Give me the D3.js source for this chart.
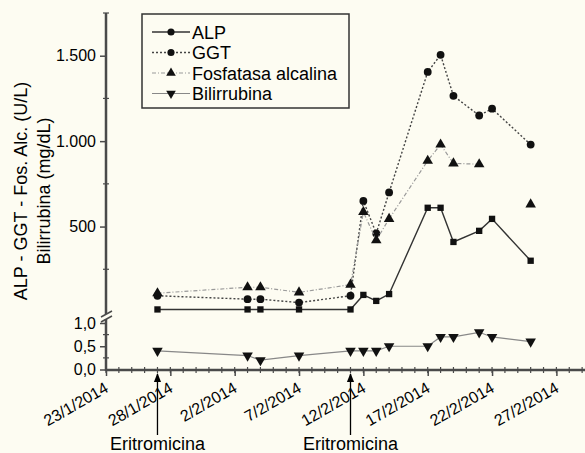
<!DOCTYPE html>
<html>
<head>
<meta charset="utf-8">
<script src="https://cdn.jsdelivr.net/npm/d3@7"></script>
<style>
body { margin: 0; background: #fdfcf2; }
text { font-family: "Liberation Sans", Arial, sans-serif; fill: #000; }
</style>
</head>
<body>
<script>
var w = 585, h = 453;

// days counted from 23/1/2014
var start = new Date(2014, 0, 23);
var days = [4,11,12,15,19,20,21,22,25,26,27,29,30,33];
var alp = [15,15,15,15,15,100,65,105,610,610,410,475,545,300];
var ggt = [95,75,75,55,95,650,460,700,1405,1505,1265,1150,1190,980];
var fa = [110,145,145,115,160,585,420,545,885,980,870,865,null,630];
var bili = [0.4,0.3,0.2,0.3,0.4,0.4,0.4,0.5,0.5,0.7,0.7,0.8,0.7,0.6];
var xTickDays = [0,5,10,15,20,25,30,35];
var upperTicks = [500,1000,1500];
var upperMinor = [250,750,1250,1750];
var lowerTicks = [0,0.5,1];
var lowerMinor = [0.25,0.75];
var arrowDays = [4,19];
var arrowLabel = 'Eritromicina';
var seriesNames = ['ALP','GGT','Fosfatasa alcalina','Bilirrubina'];

var loc = d3.formatLocale({decimal: ',', thousands: '.', grouping: [3], currency: ['', '']});
var day = function(d) { return d3.timeDay.offset(start, d); };

var x = d3.scaleTime().domain([start, day(38)]).range([106, 595]);
var yU = d3.scaleLinear().domain([0, 1750]).range([312, 13]);
var yL = d3.scaleLinear().domain([0, 1]).range([369.5, 323]);

var svg = d3.select('body').append('svg')
    .attr('width', w)
    .attr('height', h);

svg.append('defs').append('marker')
    .attr('id', 'arr')
    .attr('viewBox', '0 0 10 10')
    .attr('refX', 9).attr('refY', 5)
    .attr('markerWidth', 7).attr('markerHeight', 7)
    .attr('orient', 'auto')
    .append('path').attr('d', 'M0,1L10,5L0,9Z').attr('fill', '#000');

var axisCol = '#4a4a4a';

// y axis, upper part
var gU = svg.append('g').attr('transform', 'translate(106,0)')
    .call(d3.axisLeft(yU).tickValues(upperTicks).tickSize(6).tickFormat(loc.format(',')));
// y axis, lower part
var gL = svg.append('g').attr('transform', 'translate(106,0)')
    .call(d3.axisLeft(yL).tickValues(lowerTicks).tickSize(6).tickFormat(loc.format('.1f')));
[gU, gL].forEach(function(g) {
    g.select('.domain').remove();
    g.selectAll('line').attr('stroke', axisCol).attr('stroke-width', 1.5);
    g.selectAll('text').attr('font-size', 16).attr('font-family', '"Liberation Sans", Arial, sans-serif').attr('fill', '#000').attr('dx', -1);
});
svg.append('line').attr('x1', 106).attr('x2', 106).attr('y1', yU(1750)).attr('y2', 314)
    .attr('stroke', axisCol).attr('stroke-width', 2.5);
svg.append('line').attr('x1', 106).attr('x2', 106).attr('y1', 319).attr('y2', 371)
    .attr('stroke', axisCol).attr('stroke-width', 2.5);
// break marks
[[101,317,112,311],[101,322,112,316]].forEach(function(b) {
    svg.append('line').attr('x1', b[0]).attr('y1', b[1]).attr('x2', b[2]).attr('y2', b[3])
        .attr('stroke', axisCol).attr('stroke-width', 1.5);
});
svg.selectAll('.yminU').data(upperMinor).enter().append('line')
    .attr('x1', 103).attr('x2', 109)
    .attr('y1', function(d) { return yU(d); }).attr('y2', function(d) { return yU(d); })
    .attr('stroke', axisCol).attr('stroke-width', 1.2);
svg.selectAll('.yminL').data(lowerMinor).enter().append('line')
    .attr('x1', 103).attr('x2', 109)
    .attr('y1', function(d) { return yL(d); }).attr('y2', function(d) { return yL(d); })
    .attr('stroke', axisCol).attr('stroke-width', 1.2);

// x axis
var gx = svg.append('g').attr('transform', 'translate(0,370)')
    .call(d3.axisBottom(x).tickValues(xTickDays.map(day)).tickSize(6)
        .tickFormat(d3.timeFormat('%-d/%-m/%Y')));
gx.select('.domain').remove();
gx.selectAll('line').attr('stroke', axisCol).attr('stroke-width', 1.5);
gx.selectAll('text')
    .attr('font-size', 16).attr('font-family', '"Liberation Sans", Arial, sans-serif').attr('fill', '#000')
    .attr('text-anchor', 'end')
    .attr('dy', 0).attr('y', 0)
    .attr('transform', 'translate(3,21) rotate(-30)');
svg.append('line').attr('x1', 105).attr('x2', 585).attr('y1', 370).attr('y2', 370)
    .attr('stroke', axisCol).attr('stroke-width', 2.5);
svg.selectAll('.xmin').data(d3.range(0, 38)).enter().append('line')
    .attr('x1', function(d) { return x(day(d)); }).attr('x2', function(d) { return x(day(d)); })
    .attr('y1', 367).attr('y2', 373)
    .attr('stroke', axisCol).attr('stroke-width', 1.2);

// series
var series = [
    {name: seriesNames[0], vals: alp, y: yU, sym: d3.symbolSquare, rot: 0, stroke: '#333', dash: null, sw: 1.4},
    {name: seriesNames[1], vals: ggt, y: yU, sym: d3.symbolCircle, rot: 0, stroke: '#444', dash: '2,2', sw: 1.4},
    {name: seriesNames[2], vals: fa, y: yU, sym: d3.symbolTriangle, rot: 0, stroke: '#999', dash: '4,2,1,2', sw: 1.2},
    {name: seriesNames[3], vals: bili, y: yL, sym: d3.symbolTriangle, rot: 180, stroke: '#888', dash: null, sw: 1.2}
];

series.forEach(function(s) {
    var pts = days.map(function(d, i) { return {d: d, v: s.vals[i]}; });
    var line = d3.line()
        .defined(function(p) { return p.v != null; })
        .x(function(p) { return x(day(p.d)); })
        .y(function(p) { return s.y(p.v); });
    svg.append('path').datum(pts)
        .attr('d', line)
        .attr('fill', 'none')
        .attr('stroke', s.stroke)
        .attr('stroke-width', s.sw)
        .attr('stroke-dasharray', s.dash);
    svg.append('g').selectAll('path')
        .data(pts.filter(function(p) { return p.v != null; }))
        .enter().append('path')
        .attr('d', d3.symbol().type(s.sym).size(s.sym === d3.symbolSquare ? 40 : 48))
        .attr('transform', function(p) {
            return 'translate(' + x(day(p.d)) + ',' + s.y(p.v) + ') rotate(' + s.rot + ')';
        })
        .attr('fill', '#111');
});

// legend
var leg = svg.append('g');
leg.append('rect').attr('x', 142).attr('y', 14).attr('width', 207).attr('height', 94)
    .attr('fill', 'none').attr('stroke', '#333').attr('stroke-width', 1.5);
series.forEach(function(s, i) {
    var yy = 32 + i * 20.5;
    leg.append('line').attr('x1', 152).attr('x2', 190).attr('y1', yy).attr('y2', yy)
        .attr('stroke', s.stroke).attr('stroke-width', s.sw).attr('stroke-dasharray', s.dash);
    leg.append('path')
        .attr('d', d3.symbol().type(s.sym === d3.symbolSquare ? d3.symbolCircle : s.sym).size(40))
        .attr('transform', 'translate(171,' + yy + ') rotate(' + s.rot + ')')
        .attr('fill', '#111');
    leg.append('text').attr('x', 192).attr('y', yy + 6.5)
        .attr('font-size', 18).text(s.name);
});

// y title
svg.append('text')
    .attr('transform', 'translate(27,191) rotate(-90)')
    .attr('text-anchor', 'middle').attr('font-size', 18)
    .text('ALP - GGT - Fos. Alc. (U/L)');
svg.append('text')
    .attr('transform', 'translate(50,191) rotate(-90)')
    .attr('text-anchor', 'middle').attr('font-size', 18)
    .text('Bilirrubina (mg/dL)');

// arrows
arrowDays.forEach(function(d) {
    var ax = x(day(d));
    svg.append('line').attr('x1', ax).attr('x2', ax).attr('y1', 435).attr('y2', 374)
        .attr('stroke', '#000').attr('stroke-width', 1.3)
        .attr('marker-end', 'url(#arr)');
    svg.append('text').attr('x', ax).attr('y', 450)
        .attr('text-anchor', 'middle').attr('font-size', 18)
        .text(arrowLabel);
});
</script>
</body>
</html>
